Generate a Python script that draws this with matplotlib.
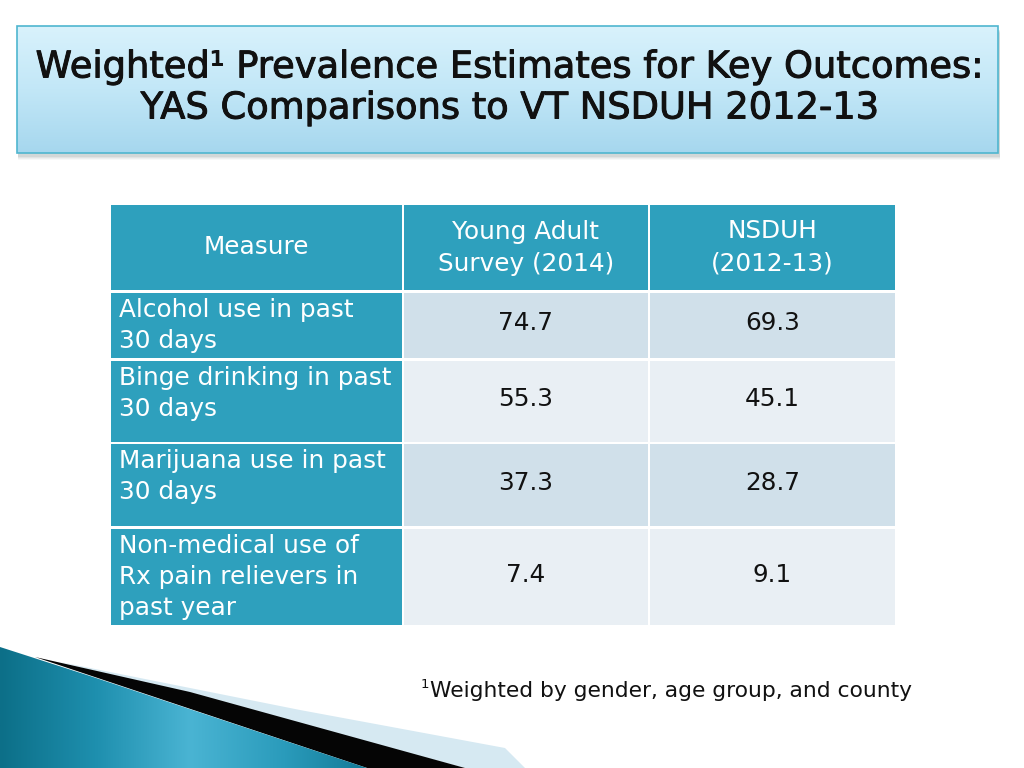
import numpy as np
import matplotlib
matplotlib.use("Agg")
import matplotlib.pyplot as plt
import matplotlib.patheffects as pe
from matplotlib.patches import Rectangle, Polygon
from matplotlib.colors import LinearSegmentedColormap

# ---- data ----
title_lines = ["Weighted\u00b9 Prevalence Estimates for Key Outcomes:",
               "YAS Comparisons to VT NSDUH 2012-13"]
col_headers = ["Measure", "Young Adult\nSurvey (2014)", "NSDUH\n(2012-13)"]
measures = ["Alcohol use in past\n30 days",
            "Binge drinking in past\n30 days",
            "Marijuana use in past\n30 days",
            "Non-medical use of\nRx pain relievers in\npast year"]
yas_values = [74.7, 55.3, 37.3, 7.4]
nsduh_values = [69.3, 45.1, 28.7, 9.1]
footnote = "Weighted by gender, age group, and county"

# ---- layout ----
W, H = 1024, 768
fig = plt.figure(figsize=(W / 100, H / 100), dpi=100)
ax = fig.add_axes([0, 0, 1, 1])
ax.set_xlim(0, W)
ax.set_ylim(H, 0)
ax.axis("off")

FONT = "DejaVu Sans"

# title box shadow
for i, a in enumerate([0.05, 0.07, 0.09, 0.12]):
    d = 7 - i
    ax.add_patch(Rectangle((17 + 1, 26 + d), 982, 127, facecolor="#6a7a80",
                           edgecolor="none", alpha=a, zorder=1))
# title box gradient
grad = np.linspace(0, 1, 256).reshape(-1, 1)
cmap_t = LinearSegmentedColormap.from_list("t", ["#d9f2fc", "#c2e7f7", "#a6d7ee"])
im = ax.imshow(grad, cmap=cmap_t, extent=[17, 998, 153, 26], aspect="auto", zorder=2)
box = Rectangle((17, 26), 981, 127, facecolor="none", edgecolor="#4fb6cf", lw=1.2, zorder=3)
ax.add_patch(box)
im.set_clip_path(box)
heavy = [pe.withStroke(linewidth=0.7, foreground="#111111")]
ax.text(509, 67, title_lines[0], ha="center", va="center", fontsize=26.5,
        family=FONT, color="#111111", zorder=4, path_effects=heavy)
ax.text(509, 108, title_lines[1], ha="center", va="center", fontsize=26.5,
        family=FONT, color="#111111", zorder=4, path_effects=heavy)

# table
col_x = [111, 404, 650]
col_w = [291, 244, 245]
row_y = [205, 293, 361, 444, 529]
row_h = [85, 65, 81, 82, 96]
header_c = "#2ea0bd"
dark_c = "#d0e0ea"
light_c = "#e9eff4"
FS = 17.8

for j in range(3):
    ax.add_patch(Rectangle((col_x[j], row_y[0]), col_w[j], row_h[0],
                           facecolor=header_c, edgecolor="none", zorder=2))
    cx = col_x[j] + col_w[j] / 2
    lines = col_headers[j].split("\n")
    n = len(lines)
    for k, ln in enumerate(lines):
        yy = row_y[0] + row_h[0] / 2 + (k - (n - 1) / 2) * 32
        ax.text(cx, yy, ln, ha="center", va="center", fontsize=FS,
                family=FONT, color="white", zorder=4)

for i in range(len(measures)):
    y0 = row_y[i + 1]
    h = row_h[i + 1]
    ax.add_patch(Rectangle((col_x[0], y0), col_w[0], h, facecolor=header_c,
                           edgecolor="none", zorder=2))
    fc = dark_c if i % 2 == 0 else light_c
    for j in (1, 2):
        ax.add_patch(Rectangle((col_x[j], y0), col_w[j], h, facecolor=fc,
                               edgecolor="none", zorder=2))
    lines = measures[i].split("\n")
    for k, ln in enumerate(lines):
        ax.text(119, y0 + 17 + k * 31, ln, ha="left", va="center", fontsize=FS,
                family=FONT, color="white", zorder=4)
    vy = y0 + h / 2 - 2
    ax.text(col_x[1] + col_w[1] / 2, vy, f"{yas_values[i]:.1f}", ha="center",
            va="center", fontsize=FS, family=FONT, color="#111111", zorder=4)
    ax.text(col_x[2] + col_w[2] / 2, vy, f"{nsduh_values[i]:.1f}", ha="center",
            va="center", fontsize=FS, family=FONT, color="#111111", zorder=4)

# footnote
ax.text(421, 684, "1", ha="left", va="center", fontsize=9.5, family=FONT,
        color="#111111", zorder=4)
ax.text(430, 691, footnote, ha="left", va="center", fontsize=15.7, family=FONT,
        color="#111111", zorder=4)

# bottom-left decoration
light_strip = Polygon([(60, 662), (300, 710), (505, 748), (525, 768), (465, 768)],
                      closed=True, facecolor="#d6e9f2", edgecolor="none", zorder=2)
ax.add_patch(light_strip)
black = Polygon([(35, 657), (190, 692), (465, 768), (367, 768)], closed=True,
                facecolor="#050505", edgecolor="none", zorder=3)
ax.add_patch(black)
teal_poly = Polygon([(0, 647), (90, 676), (367, 768), (0, 768)], closed=True,
                    facecolor="none", edgecolor="none", zorder=4)
ax.add_patch(teal_poly)
gx = np.linspace(0, 1, 256).reshape(1, -1)
cmap_b = LinearSegmentedColormap.from_list("b", ["#0c6f88", "#1e8fae", "#4ab4d3",
                                                "#2a9bbb", "#0f7591"])
im2 = ax.imshow(gx, cmap=cmap_b, extent=[0, 380, 768, 645], aspect="auto", zorder=4)
im2.set_clip_path(teal_poly)

fig.savefig("out.png", dpi=100)
